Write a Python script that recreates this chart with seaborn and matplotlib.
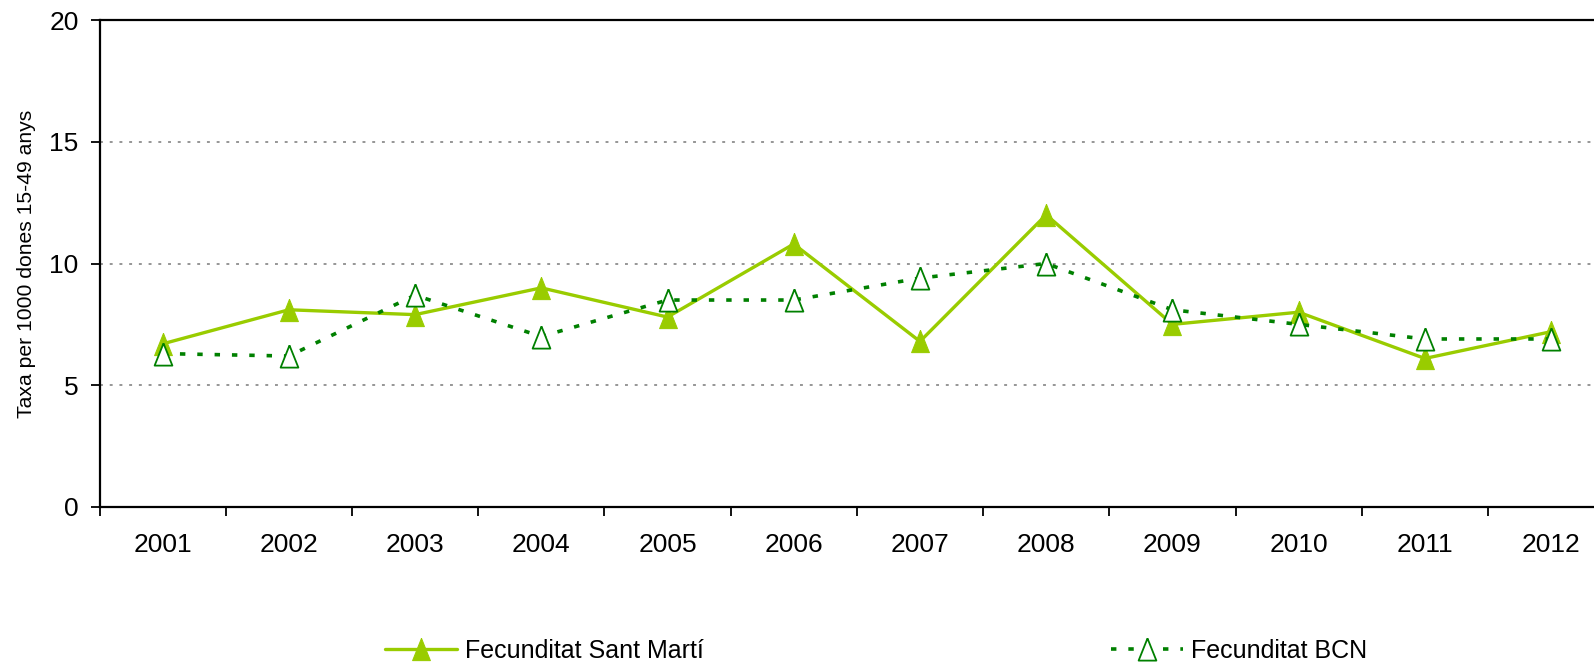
import numpy as np
import pandas as pd
import matplotlib
matplotlib.use('Agg')
import matplotlib.pyplot as plt
import seaborn as sns

# dades de fecunditat (taxa per 1000 dones 15-49 anys)
anys = ['2001', '2002', '2003', '2004', '2005', '2006',
        '2007', '2008', '2009', '2010', '2011', '2012']
sant_marti = [6.7, 8.1, 7.9, 9.0, 7.8, 10.8, 6.8, 12.0, 7.5, 8.0, 6.1, 7.2]
bcn = [6.3, 6.2, 8.7, 7.0, 8.5, 8.5, 9.4, 10.0, 8.1, 7.5, 6.9, 6.9]

df = pd.DataFrame({'pos': np.arange(len(anys)), 'any': anys,
                   'sm': sant_marti, 'bcn': bcn})

sns.set_style('white')
plt.rcParams['font.family'] = ['Liberation Sans', 'DejaVu Sans']
plt.rcParams['text.color'] = 'black'
plt.rcParams['axes.labelcolor'] = 'black'
plt.rcParams['xtick.color'] = 'black'
plt.rcParams['ytick.color'] = 'black'

# triangle una mica estret, com el de l'Excel
tri = [(0, 1), (-0.8, -1), (0.8, -1), (0, 1)]

fig = plt.figure(figsize=(15.94, 6.69), dpi=100)
ax = fig.add_axes([99.5 / 1594, 1 - 507 / 669, 1 - 99.5 / 1594, 487 / 669])

# graella puntejada
for v in [5, 10, 15, 20]:
    ax.axhline(v, color='#969696', lw=1.4, ls=(0, (1.5, 3.5)), zorder=0)

sns.lineplot(data=df, x='pos', y='sm', ax=ax, color='#99CC00', lw=2.4,
             marker=tri, markersize=16, markeredgecolor='#99CC00',
             label='Fecunditat Sant Martí', legend=False)
sns.lineplot(data=df, x='pos', y='bcn', ax=ax, color='#008000', lw=2.6,
             ls=(0, (1.5, 3.3)), marker=tri, markersize=16,
             markerfacecolor='white', markeredgecolor='#008000',
             markeredgewidth=1.3, label='Fecunditat BCN', legend=False)

ax.set_ylim(0, 20)
ax.set_xlim(-0.483, 11.34)
ax.set_yticks([0, 5, 10, 15, 20])
ax.set_yticklabels(['0', '5', '10', '15', '20'], fontsize=19)
ax.set_xticks(np.arange(len(anys)) - 0.5, minor=False)
ax.set_xticklabels([])
ax.set_xticks(np.arange(len(anys)), minor=True)
ax.set_xticklabels(anys, minor=True, fontsize=19)
ax.tick_params(axis='x', which='major', direction='out', length=6.5, width=1.3, color='black', bottom=True)
ax.tick_params(axis='x', which='minor', length=0, pad=18.5, bottom=True)
ax.tick_params(axis='y', direction='out', length=6.5, width=1.3, color='black', left=True, pad=8.5)
ax.set_xlabel('')
ax.set_ylabel('Taxa per 1000 dones 15-49 anys', fontsize=15.2)
ax.yaxis.set_label_coords(-0.0425, 0.5)

for s in ['left', 'bottom', 'top']:
    ax.spines[s].set_color('black')
    ax.spines[s].set_linewidth(1.6)
ax.spines['right'].set_visible(False)

handles, labels = ax.get_legend_handles_labels()
fig.legend(handles, labels, ncol=2, loc='center', bbox_to_anchor=(0.5495, 0.027),
           frameon=False, fontsize=18, handlelength=2.9, handletextpad=0.3,
           columnspacing=16.3)

fig.savefig('out.png', dpi=100)
